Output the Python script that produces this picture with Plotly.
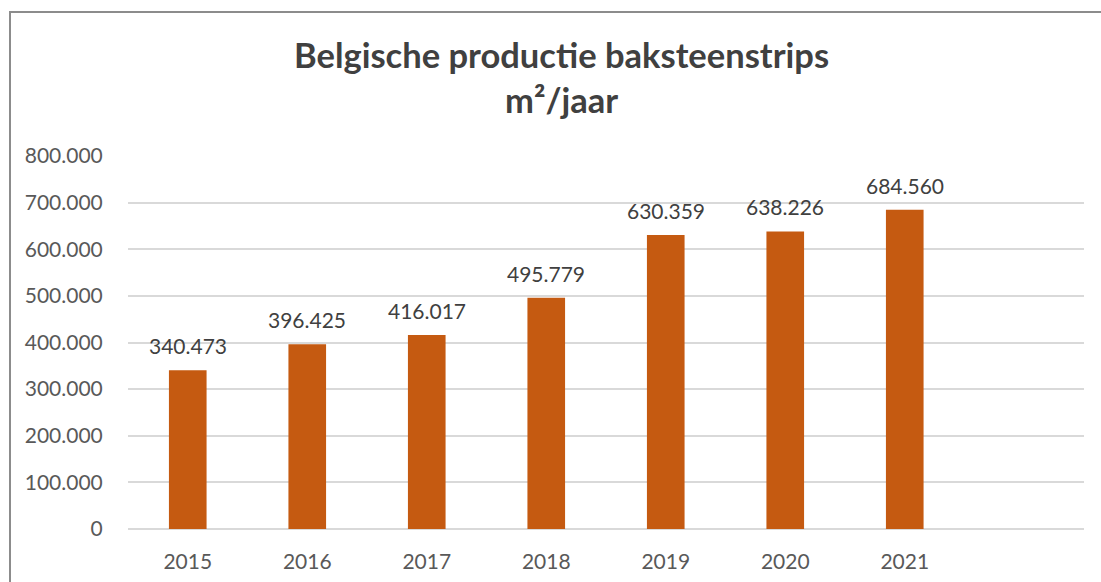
import plotly.graph_objects as go

years = ["2015", "2016", "2017", "2018", "2019", "2020", "2021"]
values = [340473, 396425, 416017, 495779, 630359, 638226, 684560]
labels = ["340.473", "396.425", "416.017", "495.779", "630.359", "638.226", "684.560"]
y_ticks = [0, 100000, 200000, 300000, 400000, 500000, 600000, 700000, 800000]
y_tick_text = ["0", "100.000", "200.000", "300.000", "400.000", "500.000", "600.000", "700.000", "800.000"]

FONT = "Lato"

fig = go.Figure(go.Bar(
    x=years, y=values,
    marker=dict(color="#C55A11", line=dict(width=0)),
    hoverinfo="x+y",
))

W, H = 1101, 582
L, T = 128, 156
pw, ph = 956, 373
R, B = W - L - pw, H - T - ph

def px2x(p):
    return (p - L) / pw

def py2y(p):
    return 1 - (p - T) / ph

annotations = [
    dict(text="<b>Belgische productie baksteenstrips</b>", xref="paper", yref="paper",
         x=px2x(561), y=py2y(54), xanchor="center", yanchor="middle", showarrow=False,
         font=dict(family=FONT, size=34.5, color="#404040")),
    dict(text="<b>m²/jaar</b>", xref="paper", yref="paper",
         x=px2x(561), y=py2y(100), xanchor="center", yanchor="middle", showarrow=False,
         font=dict(family=FONT, size=34.5, color="#404040")),
]
for i, (v, lab) in enumerate(zip(values, labels)):
    annotations.append(dict(text=lab, x=i, y=v, xref="x", yref="y",
                            xanchor="center", yanchor="bottom", yshift=10, showarrow=False,
                            font=dict(family=FONT, size=21, color="#404040")))

fig.update_layout(
    width=W, height=H,
    margin=dict(l=L, r=R, t=T, b=B, pad=0, autoexpand=False),
    paper_bgcolor="white", plot_bgcolor="white",
    showlegend=False,
    bargap=0.685,
    font=dict(family=FONT, color="#595959"),
    xaxis=dict(
        type="category", range=[-0.5, 7.5], automargin=False,
        showgrid=False, showline=False, zeroline=False,
        tickfont=dict(family=FONT, size=21, color="#595959"),
        ticks="outside", ticklen=14, tickcolor="rgba(0,0,0,0)",
    ),
    yaxis=dict(
        range=[0, 800000], tickvals=y_ticks, ticktext=y_tick_text, automargin=False,
        showgrid=True, gridcolor="#d9d9d9", gridwidth=1.5,
        zeroline=True, zerolinecolor="#d9d9d9", zerolinewidth=1.5,
        showline=False,
        tickfont=dict(family=FONT, size=21, color="#595959"),
        ticks="outside", ticklen=20, tickcolor="rgba(0,0,0,0)",
    ),
    annotations=annotations,
    shapes=[
        dict(type="rect", xref="paper", yref="paper",
             x0=px2x(10), x1=px2x(1120), y0=py2y(600), y1=py2y(12),
             line=dict(color="#8c8c8c", width=2), fillcolor="rgba(0,0,0,0)", layer="below"),
    ],
)

fig.write_html(
    "out.html",
    config={"displayModeBar": False},
    post_script="document.body.style.margin='0';document.documentElement.style.overflow='hidden';document.body.style.overflow='hidden';",
)
